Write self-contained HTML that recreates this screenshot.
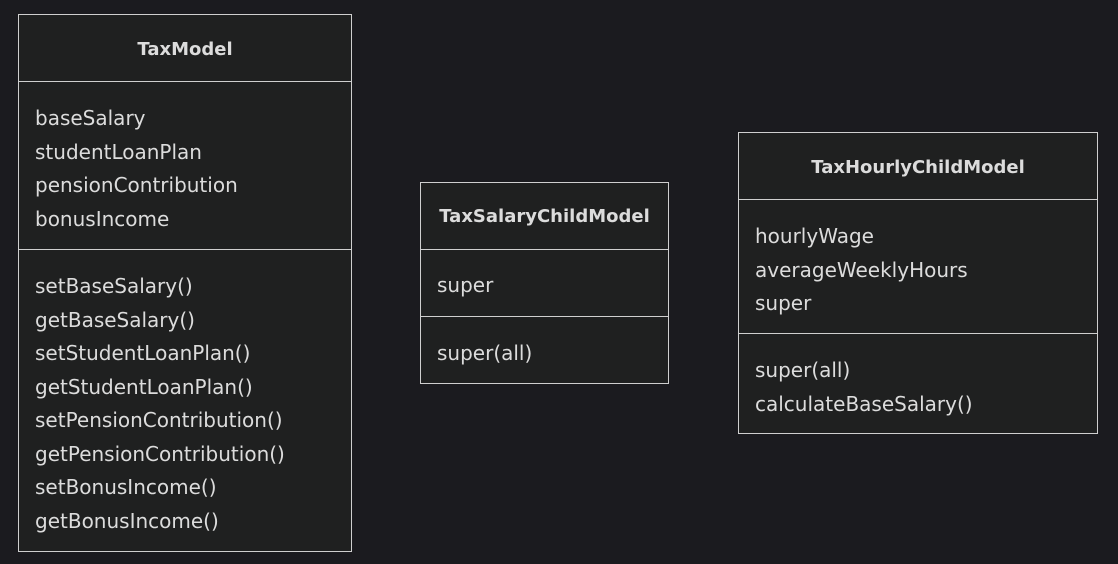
<!DOCTYPE html><html><head><style>
body{margin:0;width:1118px;height:564px;background:#1b1b1f;position:relative;font-family:"DejaVu Sans","Liberation Sans",sans-serif;color:#dcdcdc;overflow:hidden}
.b{position:absolute;background:#1f2020;border:1px solid #cfcfcf;box-sizing:border-box}
.h{position:absolute;left:0;right:0;text-align:center;font-weight:bold;font-size:18px}
.l{position:absolute;left:0;right:0;height:0;border-top:1px solid #cfcfcf}
.t{position:absolute;font-size:20px;line-height:33.5px;white-space:pre}
</style></head><body>
<div class="b" style="left:18px;top:14px;width:334px;height:538px">
<div class="h" style="top:24px">TaxModel</div>
<div class="l" style="top:66px"></div>
<div class="t" style="left:16px;top:87px">baseSalary
studentLoanPlan
pensionContribution
bonusIncome</div>
<div class="l" style="top:234px"></div>
<div class="t" style="left:16px;top:255px">setBaseSalary()
getBaseSalary()
setStudentLoanPlan()
getStudentLoanPlan()
setPensionContribution()
getPensionContribution()
setBonusIncome()
getBonusIncome()</div>
</div>
<div class="b" style="left:420px;top:182px;width:249px;height:202px">
<div class="h" style="top:23px">TaxSalaryChildModel</div>
<div class="l" style="top:66px"></div>
<div class="t" style="left:16px;top:86px">super</div>
<div class="l" style="top:133px"></div>
<div class="t" style="left:16px;top:154px">super(all)</div>
</div>
<div class="b" style="left:738px;top:132px;width:360px;height:302px">
<div class="h" style="top:24px">TaxHourlyChildModel</div>
<div class="l" style="top:66px"></div>
<div class="t" style="left:16px;top:87px">hourlyWage
averageWeeklyHours
super</div>
<div class="l" style="top:200px"></div>
<div class="t" style="left:16px;top:221px">super(all)
calculateBaseSalary()</div>
</div>
</body></html>
